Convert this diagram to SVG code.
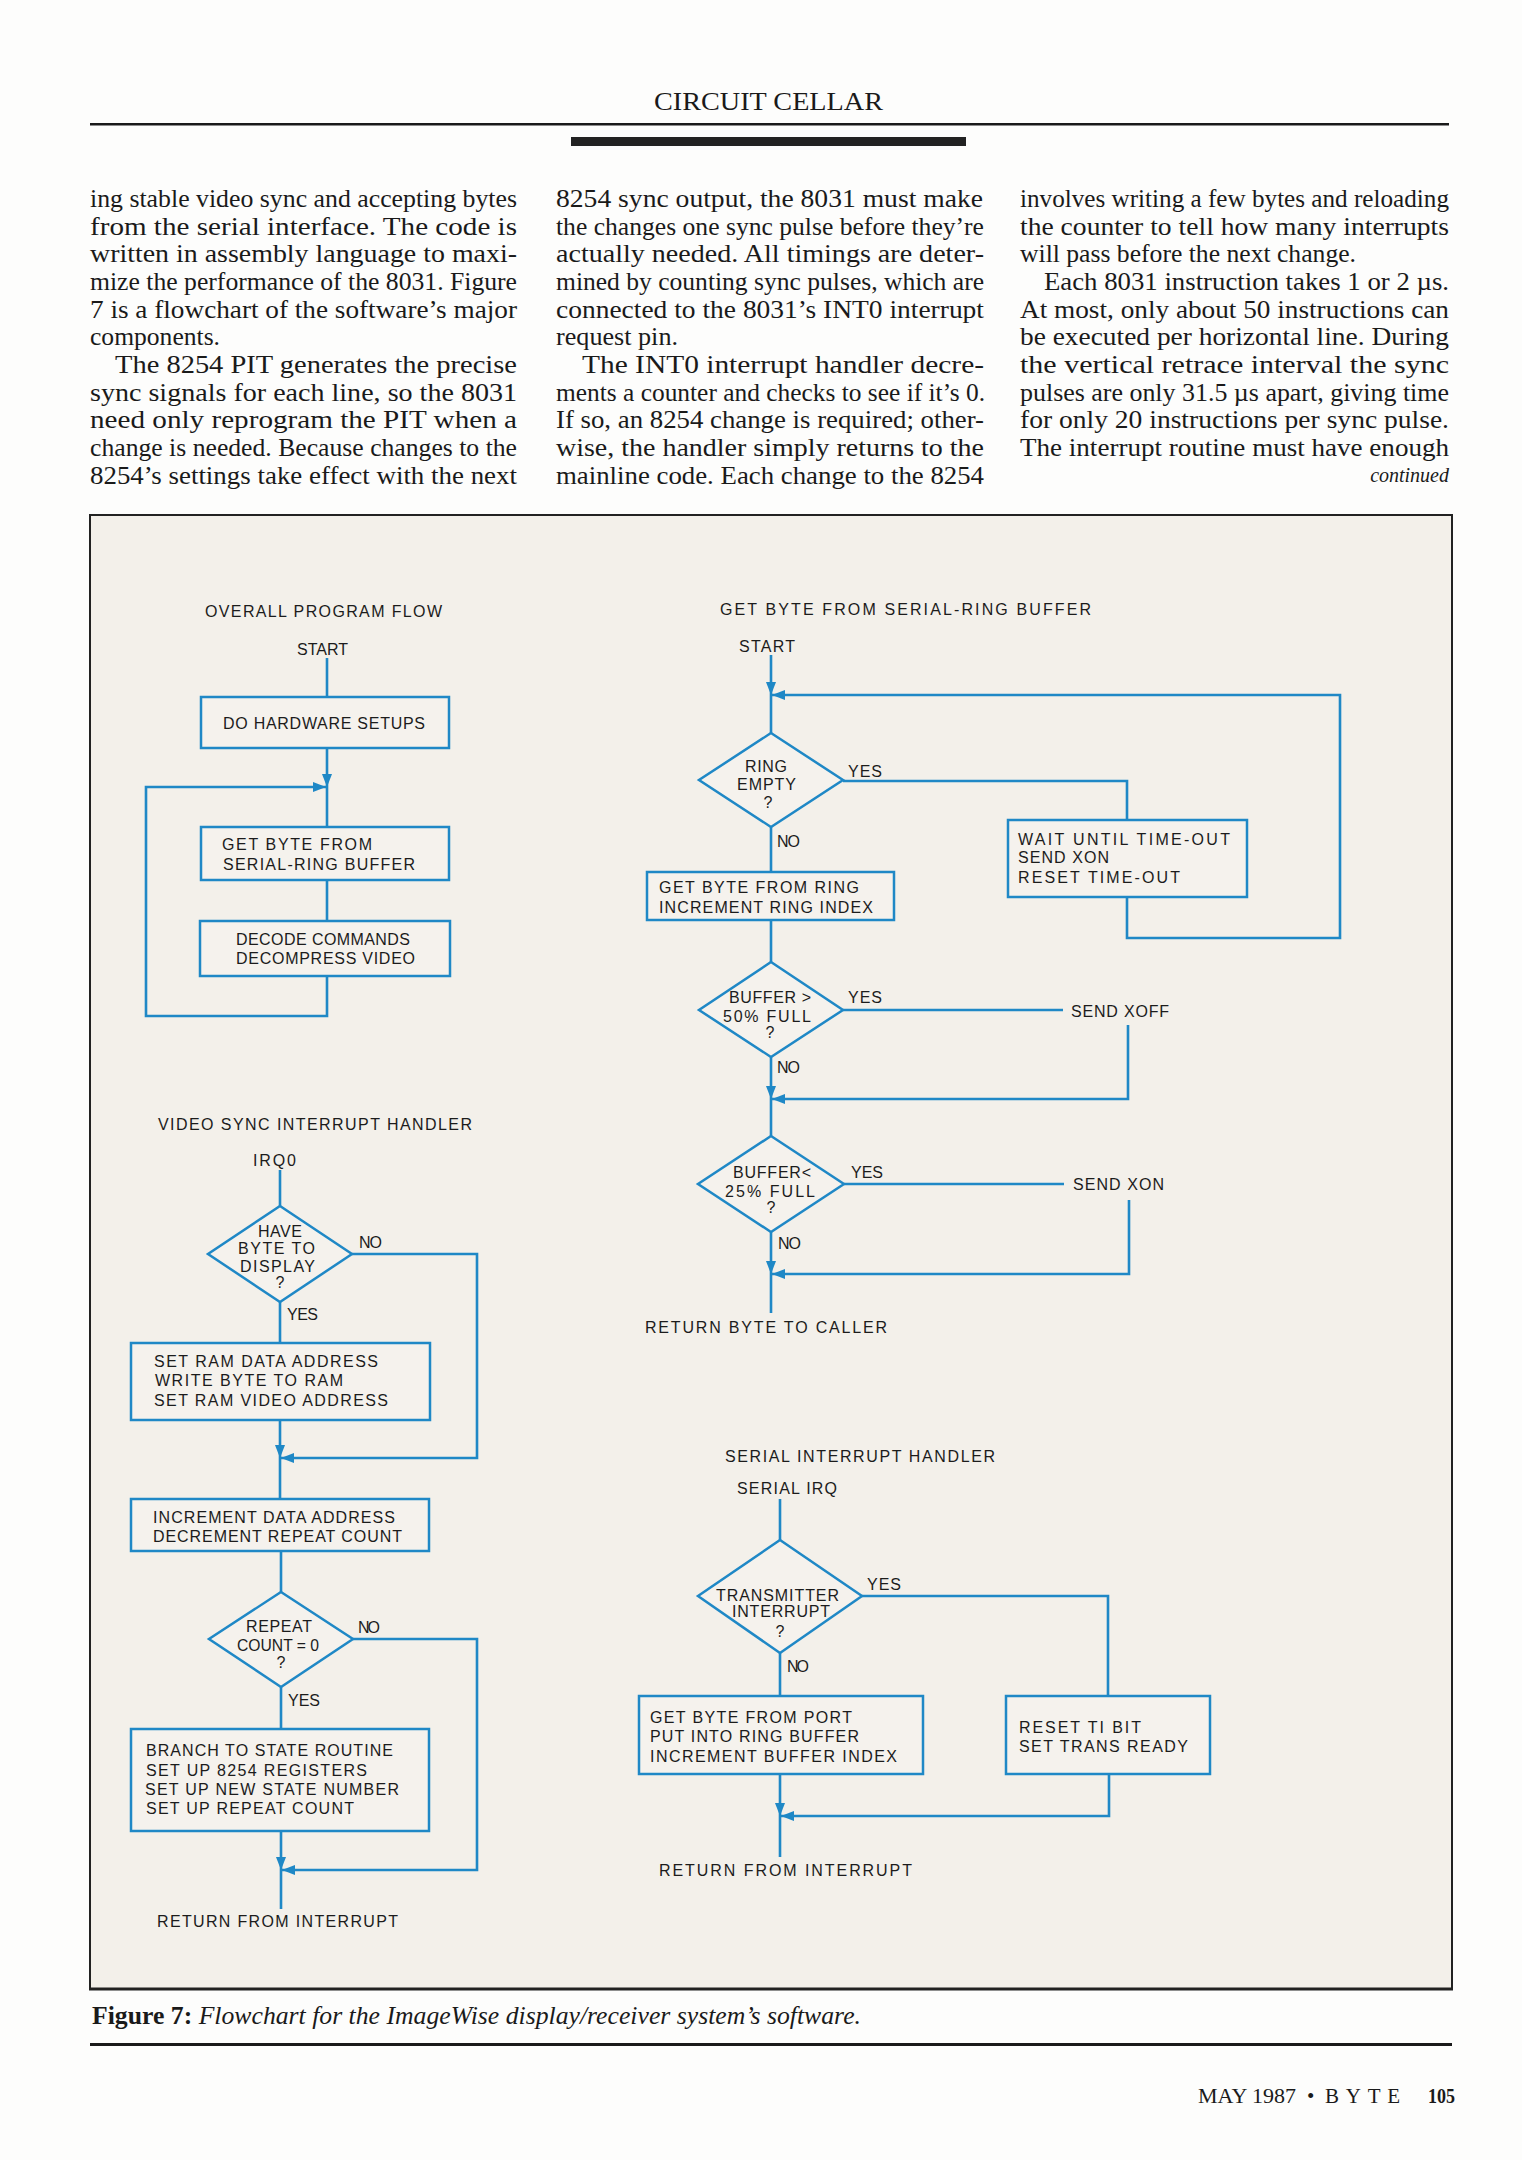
<svg xmlns="http://www.w3.org/2000/svg" width="1522" height="2160" viewBox="0 0 1522 2160">
<defs>
<marker id="ah" markerUnits="userSpaceOnUse" markerWidth="13" markerHeight="10" refX="13" refY="5" orient="auto">
<path d="M0,0 L13,5 L0,10 z" fill="#1f88c6"/>
</marker>
<style>
.body{font-family:"Liberation Serif",serif;font-size:26px;fill:#1a1a1a}
.lbl{font-family:"Liberation Sans",Arial,sans-serif;font-size:16px;fill:#1c1c1c}
.box{fill:#f5f2ed;stroke:#1f88c6;stroke-width:2.5}
.dia{fill:#f5f2ed;stroke:#1f88c6;stroke-width:2.5}
.ln{fill:none;stroke:#1f88c6;stroke-width:2.6}
.arr{fill:none;stroke:#1f88c6;stroke-width:2.6;marker-end:url(#ah)}
.mid{text-anchor:middle}
</style>
</defs>
<rect x="0" y="0" width="1522" height="2160" fill="#fdfdfc"/>

<g id="header">
<text x="654" y="110" font-family="Liberation Serif,serif" font-size="25" fill="#1a1a1a" textLength="229" lengthAdjust="spacingAndGlyphs">CIRCUIT CELLAR</text>
<rect x="90" y="123" width="1359" height="2.5" fill="#1a1a1a"/>
<rect x="571" y="137" width="395" height="9" fill="#222"/>
</g>

<g id="columns" class="body">
<text x="90" y="207" textLength="427" lengthAdjust="spacingAndGlyphs">ing stable video sync and accepting bytes</text>
<text x="90" y="235" textLength="427" lengthAdjust="spacingAndGlyphs">from the serial interface. The code is</text>
<text x="90" y="262" textLength="427" lengthAdjust="spacingAndGlyphs">written in assembly language to maxi-</text>
<text x="90" y="290" textLength="427" lengthAdjust="spacingAndGlyphs">mize the performance of the 8031. Figure</text>
<text x="90" y="318" textLength="427" lengthAdjust="spacingAndGlyphs">7 is a flowchart of the software’s major</text>
<text x="90" y="345" textLength="130" lengthAdjust="spacingAndGlyphs">components.</text>
<text x="115" y="373" textLength="402" lengthAdjust="spacingAndGlyphs">The 8254 PIT generates the precise</text>
<text x="90" y="401" textLength="427" lengthAdjust="spacingAndGlyphs">sync signals for each line, so the 8031</text>
<text x="90" y="428" textLength="427" lengthAdjust="spacingAndGlyphs">need only reprogram the PIT when a</text>
<text x="90" y="456" textLength="427" lengthAdjust="spacingAndGlyphs">change is needed. Because changes to the</text>
<text x="90" y="484" textLength="427" lengthAdjust="spacingAndGlyphs">8254’s settings take effect with the next</text>

<text x="556" y="207" textLength="427" lengthAdjust="spacingAndGlyphs">8254 sync output, the 8031 must make</text>
<text x="556" y="235" textLength="428" lengthAdjust="spacingAndGlyphs">the changes one sync pulse before they’re</text>
<text x="556" y="262" textLength="428" lengthAdjust="spacingAndGlyphs">actually needed. All timings are deter-</text>
<text x="556" y="290" textLength="428" lengthAdjust="spacingAndGlyphs">mined by counting sync pulses, which are</text>
<text x="556" y="318" textLength="428" lengthAdjust="spacingAndGlyphs">connected to the 8031’s INT0 interrupt</text>
<text x="556" y="345" textLength="122" lengthAdjust="spacingAndGlyphs">request pin.</text>
<text x="582" y="373" textLength="402" lengthAdjust="spacingAndGlyphs">The INT0 interrupt handler decre-</text>
<text x="556" y="401" textLength="429" lengthAdjust="spacingAndGlyphs">ments a counter and checks to see if it’s 0.</text>
<text x="556" y="428" textLength="428" lengthAdjust="spacingAndGlyphs">If so, an 8254 change is required; other-</text>
<text x="556" y="456" textLength="428" lengthAdjust="spacingAndGlyphs">wise, the handler simply returns to the</text>
<text x="556" y="484" textLength="428" lengthAdjust="spacingAndGlyphs">mainline code. Each change to the 8254</text>

<text x="1020" y="207" textLength="429" lengthAdjust="spacingAndGlyphs">involves writing a few bytes and reloading</text>
<text x="1020" y="235" textLength="429" lengthAdjust="spacingAndGlyphs">the counter to tell how many interrupts</text>
<text x="1020" y="262" textLength="336" lengthAdjust="spacingAndGlyphs">will pass before the next change.</text>
<text x="1044" y="290" textLength="405" lengthAdjust="spacingAndGlyphs">Each 8031 instruction takes 1 or 2 µs.</text>
<text x="1020" y="318" textLength="429" lengthAdjust="spacingAndGlyphs">At most, only about 50 instructions can</text>
<text x="1020" y="345" textLength="429" lengthAdjust="spacingAndGlyphs">be executed per horizontal line. During</text>
<text x="1020" y="373" textLength="429" lengthAdjust="spacingAndGlyphs">the vertical retrace interval the sync</text>
<text x="1020" y="401" textLength="429" lengthAdjust="spacingAndGlyphs">pulses are only 31.5 µs apart, giving time</text>
<text x="1020" y="428" textLength="429" lengthAdjust="spacingAndGlyphs">for only 20 instructions per sync pulse.</text>
<text x="1020" y="456" textLength="429" lengthAdjust="spacingAndGlyphs">The interrupt routine must have enough</text>
<text x="1449" y="482" font-size="20" font-style="italic" text-anchor="end">continued</text>
</g>

<g id="figure-frame">
<rect x="90" y="515" width="1362" height="1474" fill="#f3f0ea" stroke="#222" stroke-width="2"/>
<line x1="89" y1="1989" x2="1453" y2="1989" stroke="#222" stroke-width="3"/>
</g>

<g id="connectors">
<path class="ln" d="M327,658 V697"/>
<path class="arr" d="M327,748 V787"/>
<path class="ln" d="M327,787 V827"/>
<path class="ln" d="M327,880 V921"/>
<path class="arr" d="M327,976 V1016 H146 V787 H326"/>
<path class="arr" d="M771,655 V695"/>
<path class="ln" d="M771,695 V733"/>
<path class="ln" d="M843,781 H1127 V820"/>
<path class="arr" d="M1127,897 V938 H1340 V695 H772"/>
<path class="ln" d="M771,827 V872"/>
<path class="ln" d="M771,920 V962"/>
<path class="ln" d="M843,1010 H1063"/>
<path class="arr" d="M1128,1025 V1099 H772"/>
<path class="arr" d="M771,1057 V1099"/>
<path class="ln" d="M771,1099 V1136"/>
<path class="ln" d="M844,1184 H1064"/>
<path class="arr" d="M1129,1200 V1274 H772"/>
<path class="arr" d="M771,1232 V1274"/>
<path class="ln" d="M771,1274 V1313"/>
<path class="ln" d="M280,1170 V1206"/>
<path class="arr" d="M352,1254 H477 V1458 H281"/>
<path class="ln" d="M280,1302 V1343"/>
<path class="arr" d="M280,1420 V1458"/>
<path class="ln" d="M280,1458 V1499"/>
<path class="ln" d="M281,1551 V1592"/>
<path class="arr" d="M353,1639 H477 V1870 H282"/>
<path class="ln" d="M281,1687 V1729"/>
<path class="arr" d="M281,1831 V1870"/>
<path class="ln" d="M281,1870 V1909"/>
<path class="ln" d="M780,1499 V1540"/>
<path class="ln" d="M862,1596 H1108 V1696"/>
<path class="ln" d="M780,1653 V1696"/>
<path class="arr" d="M1109,1774 V1816 H781"/>
<path class="arr" d="M780,1774 V1816"/>
<path class="ln" d="M780,1816 V1857"/>
</g>

<g id="overall-flow" class="lbl">
<text x="205" y="617" textLength="237" lengthAdjust="spacing">OVERALL PROGRAM FLOW</text>
<text x="297" y="655" textLength="51" lengthAdjust="spacing">START</text>
</g>
<g id="n-hardware">
<rect class="box" x="201" y="697" width="248" height="51"/>
<text class="lbl" x="223" y="729" textLength="202" lengthAdjust="spacing">DO HARDWARE SETUPS</text>
</g>
<g id="n-getbyte">
<rect class="box" x="201" y="827" width="248" height="53"/>
<text class="lbl" x="222" y="850" textLength="150" lengthAdjust="spacing">GET BYTE FROM</text>
<text class="lbl" x="223" y="870" textLength="192" lengthAdjust="spacing">SERIAL-RING BUFFER</text>
</g>
<g id="n-decode">
<rect class="box" x="200" y="921" width="250" height="55"/>
<text class="lbl" x="236" y="945" textLength="174" lengthAdjust="spacing">DECODE COMMANDS</text>
<text class="lbl" x="236" y="964" textLength="179" lengthAdjust="spacing">DECOMPRESS VIDEO</text>
</g>

<g id="getbyte-flow" class="lbl">
<text x="720" y="615" textLength="371" lengthAdjust="spacing">GET BYTE FROM SERIAL-RING BUFFER</text>
<text x="739" y="652" textLength="56" lengthAdjust="spacing">START</text>
<text x="848" y="777" textLength="34" lengthAdjust="spacing">YES</text>
<text x="777" y="847" textLength="23" lengthAdjust="spacing">NO</text>
<text x="848" y="1003" textLength="34" lengthAdjust="spacing">YES</text>
<text x="777" y="1073" textLength="23" lengthAdjust="spacing">NO</text>
<text x="851" y="1178" textLength="32" lengthAdjust="spacing">YES</text>
<text x="778" y="1249" textLength="23" lengthAdjust="spacing">NO</text>
<text x="645" y="1333" textLength="242" lengthAdjust="spacing">RETURN BYTE TO CALLER</text>
</g>
<g id="n-ringempty">
<polygon class="dia" points="771,733 843,780 771,827 699,780"/>
<text class="lbl" x="745" y="772" textLength="42" lengthAdjust="spacing">RING</text>
<text class="lbl" x="737" y="790" textLength="59" lengthAdjust="spacing">EMPTY</text>
<text class="lbl mid" x="768" y="808">?</text>
</g>
<g id="n-wait">
<rect class="box" x="1008" y="820" width="239" height="77"/>
<text class="lbl" x="1018" y="845" textLength="212" lengthAdjust="spacing">WAIT UNTIL TIME-OUT</text>
<text class="lbl" x="1018" y="863" textLength="91" lengthAdjust="spacing">SEND XON</text>
<text class="lbl" x="1018" y="883" textLength="162" lengthAdjust="spacing">RESET TIME-OUT</text>
</g>
<g id="n-getring">
<rect class="box" x="647" y="872" width="247" height="48"/>
<text class="lbl" x="659" y="893" textLength="200" lengthAdjust="spacing">GET BYTE FROM RING</text>
<text class="lbl" x="659" y="913" textLength="214" lengthAdjust="spacing">INCREMENT RING INDEX</text>
</g>
<g id="n-buf50">
<polygon class="dia" points="771,962 843,1010 771,1057 699,1010"/>
<text class="lbl" x="729" y="1003" textLength="82" lengthAdjust="spacing">BUFFER &gt;</text>
<text class="lbl" x="723" y="1022" textLength="88" lengthAdjust="spacing">50% FULL</text>
<text class="lbl mid" x="770" y="1038">?</text>
</g>
<g id="n-xoff">
<text class="lbl" x="1071" y="1017" textLength="98" lengthAdjust="spacing">SEND XOFF</text>
</g>
<g id="n-buf25">
<polygon class="dia" points="771,1136 844,1184 771,1232 698,1184"/>
<text class="lbl" x="733" y="1178" textLength="78" lengthAdjust="spacing">BUFFER&lt;</text>
<text class="lbl" x="725" y="1197" textLength="90" lengthAdjust="spacing">25% FULL</text>
<text class="lbl mid" x="771" y="1213">?</text>
</g>
<g id="n-xon">
<text class="lbl" x="1073" y="1190" textLength="91" lengthAdjust="spacing">SEND XON</text>
</g>

<g id="video-flow" class="lbl">
<text x="158" y="1130" textLength="314" lengthAdjust="spacing">VIDEO SYNC INTERRUPT HANDLER</text>
<text x="253" y="1166" textLength="43" lengthAdjust="spacing">IRQ0</text>
<text x="359" y="1248" textLength="23" lengthAdjust="spacing">NO</text>
<text x="287" y="1320" textLength="31" lengthAdjust="spacing">YES</text>
<text x="358" y="1633" textLength="22" lengthAdjust="spacing">NO</text>
<text x="288" y="1706" textLength="32" lengthAdjust="spacing">YES</text>
<text x="157" y="1927" textLength="241" lengthAdjust="spacing">RETURN FROM INTERRUPT</text>
</g>
<g id="n-havebyte">
<polygon class="dia" points="280,1206 352,1254 280,1302 208,1254"/>
<text class="lbl" x="258" y="1237" textLength="44" lengthAdjust="spacing">HAVE</text>
<text class="lbl" x="238" y="1254" textLength="77" lengthAdjust="spacing">BYTE TO</text>
<text class="lbl" x="240" y="1272" textLength="75" lengthAdjust="spacing">DISPLAY</text>
<text class="lbl mid" x="280" y="1288">?</text>
</g>
<g id="n-setram">
<rect class="box" x="131" y="1343" width="299" height="77"/>
<text class="lbl" x="154" y="1367" textLength="224" lengthAdjust="spacing">SET RAM DATA ADDRESS</text>
<text class="lbl" x="155" y="1386" textLength="188" lengthAdjust="spacing">WRITE BYTE TO RAM</text>
<text class="lbl" x="154" y="1406" textLength="234" lengthAdjust="spacing">SET RAM VIDEO ADDRESS</text>
</g>
<g id="n-increment">
<rect class="box" x="131" y="1499" width="298" height="52"/>
<text class="lbl" x="153" y="1523" textLength="242" lengthAdjust="spacing">INCREMENT DATA ADDRESS</text>
<text class="lbl" x="153" y="1542" textLength="249" lengthAdjust="spacing">DECREMENT REPEAT COUNT</text>
</g>
<g id="n-repeat">
<polygon class="dia" points="281,1592 353,1639 281,1687 209,1639"/>
<text class="lbl" x="246" y="1632" textLength="66" lengthAdjust="spacing">REPEAT</text>
<text class="lbl" x="237" y="1651" textLength="82" lengthAdjust="spacingAndGlyphs">COUNT = 0</text>
<text class="lbl mid" x="281" y="1668">?</text>
</g>
<g id="n-branch">
<rect class="box" x="131" y="1729" width="298" height="102"/>
<text class="lbl" x="146" y="1756" textLength="247" lengthAdjust="spacing">BRANCH TO STATE ROUTINE</text>
<text class="lbl" x="146" y="1776" textLength="221" lengthAdjust="spacing">SET UP 8254 REGISTERS</text>
<text class="lbl" x="145" y="1795" textLength="254" lengthAdjust="spacing">SET UP NEW STATE NUMBER</text>
<text class="lbl" x="146" y="1814" textLength="208" lengthAdjust="spacing">SET UP REPEAT COUNT</text>
</g>

<g id="serial-flow" class="lbl">
<text x="725" y="1462" textLength="270" lengthAdjust="spacing">SERIAL INTERRUPT HANDLER</text>
<text x="737" y="1494" textLength="100" lengthAdjust="spacing">SERIAL IRQ</text>
<text x="867" y="1590" textLength="34" lengthAdjust="spacing">YES</text>
<text x="787" y="1672" textLength="22" lengthAdjust="spacing">NO</text>
<text x="659" y="1876" textLength="253" lengthAdjust="spacing">RETURN FROM INTERRUPT</text>
</g>
<g id="n-transmitter">
<polygon class="dia" points="780,1540 862,1596 780,1653 698,1596"/>
<text class="lbl" x="716" y="1601" textLength="123" lengthAdjust="spacing">TRANSMITTER</text>
<text class="lbl" x="732" y="1617" textLength="98" lengthAdjust="spacing">INTERRUPT</text>
<text class="lbl mid" x="780" y="1637">?</text>
</g>
<g id="n-getport">
<rect class="box" x="639" y="1696" width="284" height="78"/>
<text class="lbl" x="650" y="1723" textLength="202" lengthAdjust="spacing">GET BYTE FROM PORT</text>
<text class="lbl" x="650" y="1742" textLength="209" lengthAdjust="spacing">PUT INTO RING BUFFER</text>
<text class="lbl" x="650" y="1762" textLength="247" lengthAdjust="spacing">INCREMENT BUFFER INDEX</text>
</g>
<g id="n-resetti">
<rect class="box" x="1006" y="1696" width="204" height="78"/>
<text class="lbl" x="1019" y="1733" textLength="122" lengthAdjust="spacing">RESET TI BIT</text>
<text class="lbl" x="1019" y="1752" textLength="169" lengthAdjust="spacing">SET TRANS READY</text>
</g>

<g id="caption">
<text x="92" y="2024" font-family="Liberation Serif,serif" font-size="26" fill="#1a1a1a" textLength="769" lengthAdjust="spacingAndGlyphs"><tspan font-weight="bold">Figure 7:</tspan><tspan font-style="italic"> Flowchart for the ImageWise display/receiver system’s software.</tspan></text>
<rect x="90" y="2043" width="1362" height="3" fill="#1a1a1a"/>
</g>

<g id="footer" font-family="Liberation Serif,serif" font-size="21" fill="#1a1a1a">
<text x="1198" y="2103" textLength="98" lengthAdjust="spacingAndGlyphs">MAY 1987</text>
<text x="1307" y="2103">•</text>
<text x="1325" y="2103" textLength="75" lengthAdjust="spacing">BYTE</text>
<text x="1428" y="2103" font-weight="bold" textLength="27" lengthAdjust="spacingAndGlyphs">105</text>
</g>
</svg>
